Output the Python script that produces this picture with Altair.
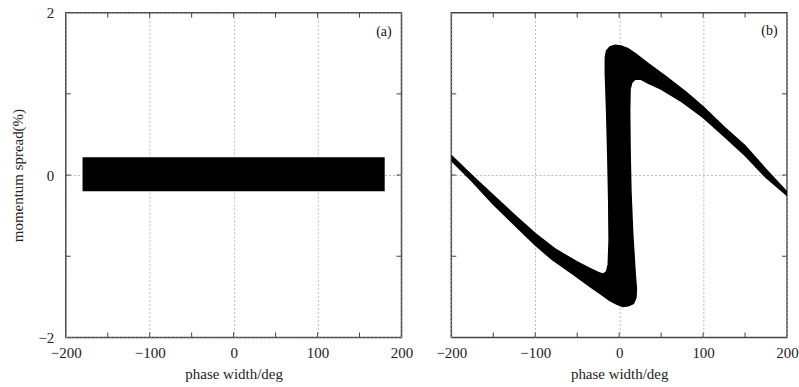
import altair as alt
import pandas as pd

# ---- data ----
# panel (a): initial beam, rectangle in phase/momentum space
rect_phase = [-180.0, 180.0]
rect_dp = [-0.20, 0.22]

# panel (b): outline of the S-shaped distribution (phase deg, momentum spread %)
s_phase = [-200, -175, -150, -125, -100, -75, -50, -35, -25, -19, -15, -13,
           -12, -12.5, -13.5, -15, -16.5, -16.5, -15, -11, -5, 2, 10, 20, 35, 55, 80,
           100, 125, 150, 175, 200,
           200, 175, 150, 125, 100, 75, 50, 35, 26, 19, 15, 13,
           12.5, 13, 14, 16, 19, 20.5, 20, 17, 11, 4, -3,
           -12, -20, -35, -55, -80, -100, -125, -150, -175, -200]
s_dp = [0.24, -0.01, -0.25, -0.49, -0.72, -0.92, -1.07, -1.15, -1.20, -1.22, -1.19, -1.10,
        -0.80, -0.30, 0.20, 0.80, 1.25, 1.45, 1.53, 1.58, 1.60, 1.59, 1.56, 1.49, 1.37, 1.22, 1.02,
        0.84, 0.59, 0.36, 0.07, -0.21,
        -0.25, -0.03, 0.24, 0.48, 0.71, 0.90, 1.06, 1.13, 1.18, 1.18, 1.14, 1.06,
        0.80, 0.30, -0.20, -0.70, -1.20, -1.40, -1.51, -1.58, -1.61, -1.62, -1.59,
        -1.54, -1.48, -1.37, -1.22, -1.04, -0.86, -0.61, -0.36, -0.08, 0.18]

x_labels = [-200, -100, 0, 100, 200]
y_labels = [-2, 0, 2]
x_ticks = [-150, -100, -50, 0, 50, 100, 150]
y_ticks = [-1, 0, 1]
panel_tags = ["(a)", "(b)"]
tag_pos = [(179, 1.76), (179, 1.78)]

X_DOMAIN = [-200, 200]
Y_DOMAIN = [-2, 2]
W, H = 337, 326
FONT = "Liberation Serif"
TICK_COLOR = "#444"

xscale = alt.Scale(domain=X_DOMAIN, nice=False, zero=False)
yscale = alt.Scale(domain=Y_DOMAIN, nice=False, zero=False)

x_axis = alt.Axis(values=x_labels, grid=True, labelFlush=False, ticks=False,
                  domain=False, labelPadding=8, titlePadding=6,
                  title="phase width/deg")


def y_axis(show):
    if show:
        return alt.Axis(values=y_labels, grid=True, ticks=False, domain=False,
                        labelPadding=12, titlePadding=12, labelFlush=False,
                        title="momentum spread(%)")
    return alt.Axis(values=[0], grid=True, ticks=False, domain=False,
                    labels=False, title=None)


xt = pd.DataFrame({"t": x_ticks})
yt = pd.DataFrame({"t": y_ticks})


def tick_layers():
    X = alt.X("t:Q", scale=xscale, axis=x_axis, title="phase width/deg")
    bottom = alt.Chart(xt).mark_rule(color=TICK_COLOR, strokeWidth=1).encode(
        x=X, y=alt.value(H), y2=alt.value(H - 5))
    top = alt.Chart(xt).mark_rule(color=TICK_COLOR, strokeWidth=1).encode(
        x=X, y=alt.value(0), y2=alt.value(5))
    return [bottom, top]


def ytick_layers(show):
    Y = alt.Y("t:Q", scale=yscale, axis=y_axis(show),
              title="momentum spread(%)" if show else None)
    left = alt.Chart(yt).mark_rule(color=TICK_COLOR, strokeWidth=1).encode(
        y=Y, x=alt.value(0), x2=alt.value(5))
    right = alt.Chart(yt).mark_rule(color=TICK_COLOR, strokeWidth=1).encode(
        y=Y, x=alt.value(W), x2=alt.value(W - 5))
    return [left, right]


def tag_layer(i, show):
    df = pd.DataFrame({"px": [tag_pos[i][0]], "dp": [tag_pos[i][1]], "lab": [panel_tags[i]]})
    return alt.Chart(df).mark_text(font=FONT, fontSize=14, color="#111").encode(
        x=alt.X("px:Q", scale=xscale, axis=x_axis, title="phase width/deg"),
        y=alt.Y("dp:Q", scale=yscale, axis=y_axis(show),
                title="momentum spread(%)" if show else None),
        text="lab:N")


# panel (a)
rect_df = pd.DataFrame({"x1": [rect_phase[0]], "x2": [rect_phase[1]],
                        "y1": [rect_dp[0]], "y2": [rect_dp[1]]})
rect = alt.Chart(rect_df).mark_rect(color="black").encode(
    x=alt.X("x1:Q", scale=xscale, axis=x_axis, title="phase width/deg"),
    x2="x2:Q",
    y=alt.Y("y1:Q", scale=yscale, axis=y_axis(True), title="momentum spread(%)"),
    y2="y2:Q")

panel_a = alt.layer(rect, *tick_layers(), *ytick_layers(True), tag_layer(0, True)).properties(
    width=W, height=H)

# panel (b)
s_df = pd.DataFrame({"px": s_phase, "dp": s_dp, "i": list(range(len(s_phase)))})
shape = alt.Chart(s_df).mark_line(color="black", fill="black", strokeWidth=1.5,
                                  clip=True).encode(
    x=alt.X("px:Q", scale=xscale, axis=x_axis, title="phase width/deg"),
    y=alt.Y("dp:Q", scale=yscale, axis=y_axis(False), title=None),
    order="i:Q")

panel_b = alt.layer(shape, *tick_layers(), *ytick_layers(False), tag_layer(1, False)).properties(
    width=W, height=H)

chart = alt.hconcat(panel_a, panel_b, spacing=50, bounds="flush").properties(
    padding={"left": 10, "top": 4, "right": 0, "bottom": 0},
    background="white"
).configure_axis(
    labelFont=FONT, titleFont=FONT, labelFontSize=15, titleFontSize=15,
    titleFontWeight="normal", labelColor="#222", titleColor="#222",
    gridColor="#aaa", gridDash=[2, 2], gridWidth=0.8
).configure_view(stroke="#444", strokeWidth=1.5)

chart.save("out.html", embed_options={"renderer": "svg", "actions": False})
